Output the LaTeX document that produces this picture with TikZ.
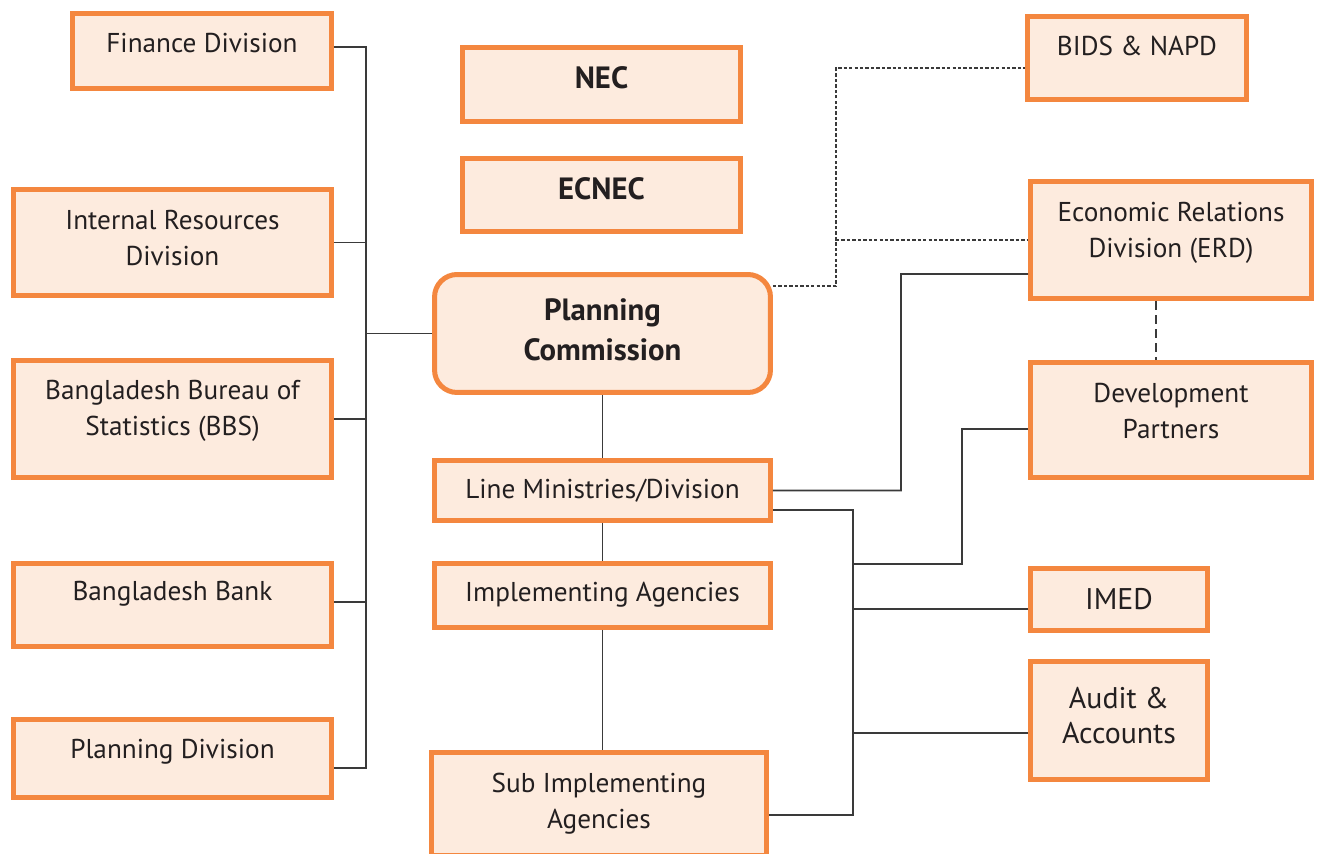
\documentclass[tikz,border=0pt]{standalone}
\usepackage{fontspec}
\setmainfont{PT Sans}
\definecolor{boxline}{HTML}{F4873F}
\definecolor{boxfill}{HTML}{FDEBDE}
\definecolor{wire}{HTML}{3A3A3A}
\definecolor{ink}{HTML}{231F20}
\newcommand{\drop}[1]{\rule[-#1]{0pt}{#1}}

\begin{document}
\begin{tikzpicture}[x=0.02cm,y=-0.02cm,
  box/.style={draw=boxline,fill=boxfill,line width=0.1cm,align=center,text=ink,inner sep=0pt,
    font=\fontsize{15.5}{20.4}\selectfont},
  big/.style={font=\fontsize{17.5}{22.7}\selectfont\bfseries},
  conn/.style={draw=wire,line width=0.95pt},
  link/.style={conn,dash pattern=on 1.9pt off 1.2pt}]
\useasboundingbox (0,0) rectangle (1320,854);
% left column
\node[box,minimum width=5.18cm,minimum height=1.5cm] (fin) at (202,51) {Finance Division\drop{0.32cm}};
\node[box,minimum width=6.36cm,minimum height=2.12cm] (ird) at (172.5,242.5) {Internal Resources\\Division\drop{0.18cm}};
\node[box,minimum width=6.36cm,minimum height=2.34cm] (bbs) at (172.5,419) {Bangladesh Bureau of\\Statistics (BBS)\drop{0.44cm}};
\node[box,minimum width=6.36cm,minimum height=1.66cm] (bank) at (172.5,605) {Bangladesh Bank\drop{0.56cm}};
\node[box,minimum width=6.36cm,minimum height=1.56cm] (pdiv) at (172.5,758.5) {Planning Division\drop{0.38cm}};
% centre column
\node[box,big,minimum width=5.56cm,minimum height=1.48cm] (nec) at (601.5,84.5) {NEC\drop{0.26cm}};
\node[box,big,minimum width=5.56cm,minimum height=1.46cm] (ecnec) at (601.5,195) {ECNEC\drop{0.24cm}};
\node[box,big,rounded corners=0.45cm,minimum width=6.72cm,minimum height=2.36cm] (pc) at (602.5,333.5) {Planning\\Commission\drop{0.14cm}};
\node[box,minimum width=6.72cm,minimum height=1.2cm] (lm) at (602.5,490.5) {Line Ministries/Division};
\node[box,minimum width=6.72cm,minimum height=1.28cm] (ia) at (602.5,595.5) {Implementing Agencies\drop{0.14cm}};
\node[box,minimum width=6.7cm,minimum height=2.06cm] (sia) at (599,804) {Sub Implementing\\Agencies\drop{0.08cm}};
% right column
\node[box,minimum width=4.38cm,minimum height=1.66cm] (bids) at (1137,58) {BIDS \& NAPD\drop{0.48cm}};
\node[box,minimum width=5.62cm,minimum height=2.34cm] (erd) at (1171,240) {Economic Relations\\Division (ERD)\drop{0.42cm}};
\node[box,minimum width=5.62cm,minimum height=2.3cm] (dp) at (1171,420) {Development\\Partners\drop{0.38cm}};
\node[box,font=\fontsize{17}{19.8}\selectfont,minimum width=3.54cm,minimum height=1.24cm] (imed) at (1119,599.5) {IMED};
\node[box,font=\fontsize{17}{19.8}\selectfont,minimum width=3.54cm,minimum height=2.36cm] (audit) at (1119,720.5) {Audit \&\\Accounts\drop{0.2cm}};
% left bus
\coordinate (lbus) at (366,336);
\path[conn] ([yshift=0.08cm]fin.east) -| (lbus) |- ([yshift=-0.19cm]pdiv.east);
\path[conn] (ird.east) -- (ird.east -| lbus);
\path[conn] (bbs.east) -- (bbs.east -| lbus);
\path[conn] ([yshift=0.06cm]bank.east) -- ([yshift=0.06cm]bank.east -| lbus);
\path[conn] (pc.west) -- (pc.west -| lbus);
% centre chain
\path[conn] (pc.south) -- (lm.north);
\path[conn] (lm.south) -- (ia.north);
\path[conn] (ia.south) -- (ia.south |- sia.north);
% dotted links
\coordinate (dbus) at (836,240);
\path[link] ([yshift=0.95cm]pc.east) -| (dbus) |- ([yshift=-0.2cm]bids.west);
\path[link] (dbus) -- (erd.west);
\path[conn,dash pattern=on 5pt off 3pt] ([xshift=-0.3cm]erd.south) -- ([xshift=-0.3cm]dp.north);
% right bus
\coordinate (ebend) at (901,274);
\path[conn] (lm.east) -| (ebend) -- ([yshift=-0.68cm]erd.west);
\coordinate (rbus) at (853,700);
\path[conn] ([yshift=-0.39cm]lm.east) -| (rbus) |- ([yshift=-0.22cm]sia.east);
\coordinate (dbend) at (962,564);
\path[conn] (dbend -| rbus) -- (dbend) |- ([yshift=-0.18cm]dp.west);
\path[conn] ([yshift=-0.19cm]imed.west) -- ([yshift=-0.19cm]imed.west -| rbus);
\path[conn] ([yshift=-0.25cm]audit.west) -- ([yshift=-0.25cm]audit.west -| rbus);
\end{tikzpicture}
\end{document}
